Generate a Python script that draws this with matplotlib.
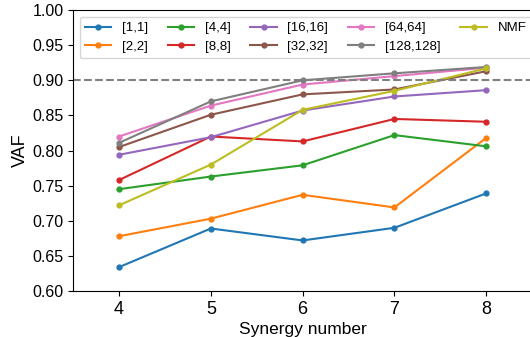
import numpy as np
import matplotlib
matplotlib.use("Agg")
import matplotlib.pyplot as plt

plt.rcParams["font.family"] = ["Liberation Sans", "DejaVu Sans"]

# Synergy numbers on the x axis
synergy = [4, 5, 6, 7, 8]

# VAF per configuration
vaf_1 = [0.634, 0.689, 0.672, 0.690, 0.739]
vaf_2 = [0.678, 0.703, 0.737, 0.719, 0.818]
vaf_4 = [0.745, 0.763, 0.779, 0.822, 0.806]
vaf_8 = [0.758, 0.820, 0.813, 0.845, 0.841]
vaf_16 = [0.794, 0.819, 0.857, 0.877, 0.886]
vaf_32 = [0.805, 0.851, 0.880, 0.887, 0.913]
vaf_64 = [0.820, 0.864, 0.894, 0.906, 0.918]
vaf_128 = [0.811, 0.870, 0.900, 0.910, 0.919]
vaf_nmf = [0.722, 0.780, 0.858, 0.885, 0.917]

labels = ["[1,1]", "[2,2]", "[4,4]", "[8,8]", "[16,16]", "[32,32]",
          "[64,64]", "[128,128]", "NMF"]
series = [vaf_1, vaf_2, vaf_4, vaf_8, vaf_16, vaf_32, vaf_64, vaf_128, vaf_nmf]

fig = plt.figure(figsize=(5.3, 3.37), dpi=100)
ax = fig.add_axes([0.138, 0.1365, 0.866, 0.8335])

for vals, lab in zip(series, labels):
    ax.plot(synergy, vals, marker="o", markersize=3.5, linewidth=1.5, label=lab)

ax.axhline(0.9, color="gray", linestyle="--", linewidth=1.5)

ax.set_xlim(3.5, 8.5)
ax.set_ylim(0.6, 1.0)
ax.set_xticks(synergy)
ax.set_yticks(np.arange(0.60, 1.001, 0.05))
ax.tick_params(axis="y", labelsize=11.5)
ax.tick_params(axis="x", labelsize=13)
ax.set_xlabel("Synergy number", fontsize=12.5, labelpad=3)
ax.set_ylabel("VAF", fontsize=13, labelpad=2)
ax.legend(ncol=5, loc="upper left", fontsize=9.5, handlelength=2.0,
          columnspacing=1.5, borderaxespad=0.5)

fig.savefig("out.png", dpi=100)
